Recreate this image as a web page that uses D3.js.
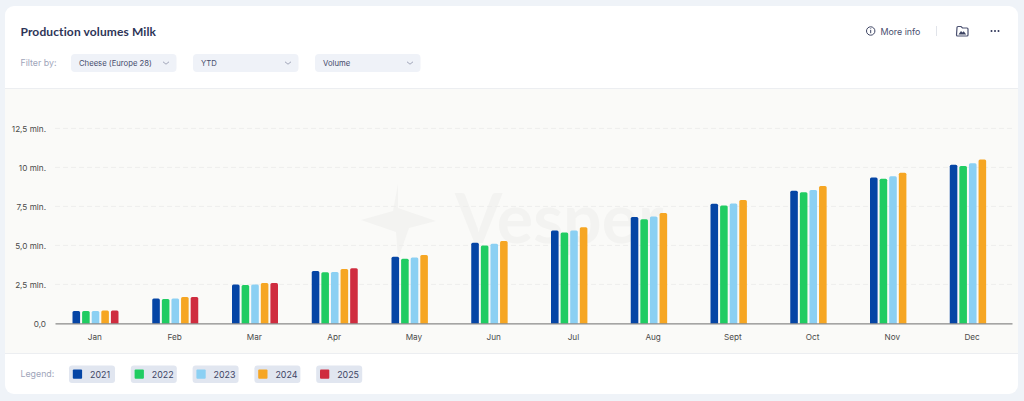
<!DOCTYPE html>
<html>
<head>
<meta charset="utf-8">
<script src="https://cdn.jsdelivr.net/npm/d3@7"></script>
<style>
  html, body { margin: 0; padding: 0; background: #eff3f8; }
  svg { display: block; font-family: Inter, sans-serif; }
</style>
</head>
<body>
<svg width="1024" height="401"></svg>
<script>
const months = ["Jan","Feb","Mar","Apr","May","Jun","Jul","Aug","Sept","Oct","Nov","Dec"]
const years = ["2021","2022","2023","2024","2025"]
const colors = ["#0545a5","#20cc62","#8bd0f3","#f6a623","#cf2c3f"]
const yTicks = [0, 2.5, 5, 7.5, 10, 12.5]
const yLabels = ["0,0","2,5 mln.","5,0 mln.","7,5 mln.","10 mln.","12,5 mln."]
const filters = ["Cheese (Europe 28)", "YTD", "Volume"]

const v2021 = [0.80,1.60,2.50,3.36,4.27,5.17,5.96,6.82,7.67,8.50,9.36,10.17]
const v2022 = [0.79,1.56,2.46,3.28,4.15,5.00,5.83,6.67,7.56,8.40,9.27,10.09]
const v2023 = [0.79,1.60,2.50,3.30,4.23,5.10,5.96,6.86,7.69,8.55,9.44,10.26]
const v2024 = [0.83,1.69,2.59,3.49,4.38,5.28,6.17,7.07,7.91,8.80,9.66,10.51]
const v2025 = [0.83,1.69,2.59,3.53]
const series = [v2021, v2022, v2023, v2024, v2025]

const svg = d3.select("svg")
const ink = "#2e3557", muted = "#a0a5ba", pill = "#eff2f8"

// card + chart area
svg.append("rect").attr("x",5).attr("y",6).attr("width",1013).attr("height",388).attr("rx",9).attr("fill","#fff")
svg.append("rect").attr("x",5).attr("y",88.5).attr("width",1013).attr("height",265).attr("fill","#fafaf8")
svg.append("path").attr("d","M5,88.5H1018M5,353.5H1018").attr("stroke","#eceef1").attr("fill","none")

// header
svg.append("text").attr("x",20.5).attr("y",36).attr("font-family","Lato, sans-serif").attr("font-weight",700)
  .attr("font-size",12).attr("letter-spacing",0.12).attr("fill",ink).text("Production volumes Milk")
svg.append("text").attr("x",20.5).attr("y",66).attr("font-size",8.8).attr("fill",muted).text("Filter by:")

const pillX = [71,193,315]
filters.forEach((f,i)=>{
  const g = svg.append("g").attr("transform",`translate(${pillX[i]},54)`)
  g.append("rect").attr("width",105.5).attr("height",18).attr("rx",4).attr("fill",pill)
  g.append("text").attr("x",8).attr("y",12).attr("font-size",7.7).attr("fill","#454b6b").text(f)
  g.append("path").attr("d","M92,7.8l3,2.400l3,-2.400").attr("fill","none").attr("stroke","#8d92a8").attr("stroke-width",0.8)
})

// top right tools
const tools = svg.append("g").attr("stroke","#3d4463").attr("fill","none")
tools.append("circle").attr("cx",870.7).attr("cy",31).attr("r",4.2).attr("stroke-width",1)
tools.append("path").attr("d","M870.7,30v3.2M870.7,28.400v.8").attr("stroke-width",1)
svg.append("text").attr("x",880.5).attr("y",34.5).attr("font-size",8.9).attr("fill","#4a5070").text("More info")
svg.append("path").attr("d","M936.5,26V36").attr("stroke","#e1e4ea")
svg.append("path").attr("d","M957,27.500a1,1 0 0 1 1,-1h3l1.500,1.500h4.500a1,1 0 0 1 1,1v6a1,1 0 0 1 -1,1h-9.500a1,1 0 0 1 -1,-1z")
  .attr("fill","#fff").attr("stroke","#4a5070").attr("stroke-width",1.2)
svg.append("path").attr("d","M958.500,34.500l2.500,-3.500l1.500,1.500l1.200,-1.200l2.500,3.200z").attr("fill","#3d4463")
svg.selectAll(".dot").data([991.5,995,998.5]).join("circle").attr("cx",d=>d).attr("cy",31).attr("r",1).attr("fill","#2e3557")

// watermark
const wm = svg.append("g").attr("fill","#f3f3f1")
wm.append("path").attr("d","M398,184L398,208L436,221L409,228L398,259L396,232L361,220L393,211Z")
wm.append("text").attr("x",455).attr("y",243).attr("font-family","Lato, sans-serif").attr("font-weight",700)
  .attr("font-size",68).text("Vesper")

// scales
const x0 = d3.scaleBand().domain(months).range([55,1012])
const x1 = d3.scaleBand().domain(years).range([17.5,63.5]).paddingInner(0.21).paddingOuter(0)
const y = d3.scaleLinear().domain([0,12.5]).range([323.4,128.4])

// grid
svg.append("g").selectAll("line").data(yTicks.slice(1)).join("line")
  .attr("x1",55).attr("x2",1012).attr("y1",d=>y(d)).attr("y2",d=>y(d))
  .attr("stroke","#eeeeec").attr("stroke-dasharray","5,3")

// bars
const bar = (x,w,top) => `M${x},${y(0)}V${top+1.5}q0,-1.5 1.5,-1.5H${x+w-1.5}q1.5,0 1.5,1.5V${y(0)}Z`
series.forEach((vals,s)=>{
  svg.append("g").selectAll("path").data(vals).join("path")
    .attr("fill",colors[s])
    .attr("d",(d,i)=>bar(x0(months[i])+x1(years[s]),x1.bandwidth(),y(d)))
})

// axes
const yAxis = svg.append("g").attr("transform","translate(55,0)")
  .call(d3.axisLeft(y).tickValues(yTicks).tickFormat((d,i)=>yLabels[i]).tickSize(0).tickPadding(9))
yAxis.select(".domain").remove()
yAxis.selectAll("text").attr("font-family","Inter, sans-serif").attr("font-size",8.2).attr("fill","#4a4a4a")

const xAxis = svg.append("g").attr("transform",`translate(0,${y(0)})`)
  .call(d3.axisBottom(x0).tickSize(0).tickPadding(11))
xAxis.select(".domain").attr("stroke","#6f6f6f").attr("stroke-width",1)
xAxis.selectAll("text").attr("font-family","Inter, sans-serif").attr("font-size",8.2).attr("fill","#4a4a4a")

// legend
svg.append("text").attr("x",20.5).attr("y",377).attr("font-size",8.8).attr("fill",muted).text("Legend:")
const legend = svg.append("g").selectAll("g").data(years).join("g")
  .attr("transform",(d,i)=>`translate(${69+i*61.8},365.5)`)
legend.append("rect").attr("width",46).attr("height",17.5).attr("rx",3).attr("fill","#e1e6f0")
legend.append("rect").attr("x",3.8).attr("y",4).attr("width",9.3).attr("height",9.3).attr("rx",1).attr("fill",(d,i)=>colors[i])
legend.append("text").attr("x",21).attr("y",12.3).attr("font-size",8.9).attr("fill","#3d4463").text(d=>d)
</script>
</body>
</html>
